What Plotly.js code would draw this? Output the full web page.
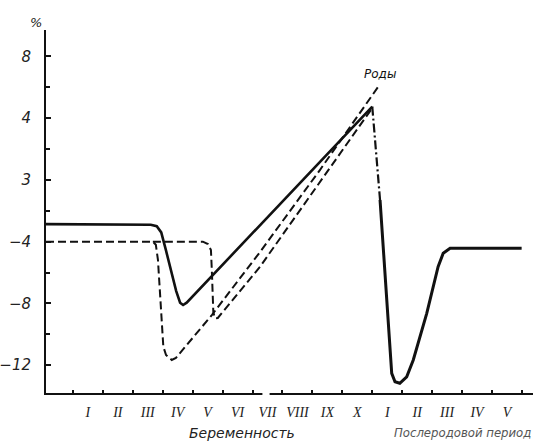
<!DOCTYPE html>
<html>
<head>
<meta charset="utf-8">
<script src="https://cdn.plot.ly/plotly-3.0.1.min.js"></script>
<style>html,body{margin:0;padding:0;background:#fff;}#chart{width:536px;height:445px;}</style>
</head>
<body>
<div id="chart"></div>
<script>
// Month positions: pregnancy months I..X occupy [0,10], birth at 10, postpartum months I..V occupy [10,15]
const monthLabels = ["I","II","III","IV","V","VI","VII","VIII","IX","X","I","II","III","IV","V"];
const monthCenters = [0.5,1.5,2.5,3.5,4.5,5.5,6.5,7.5,8.5,9.5,10.5,11.5,12.5,13.5,14.5];
const monthBounds = [0,1,2,3,4,5,6,7,8,9,10,11,12,13,14,15];

const yTickVals = [-12,-8,-4,0,4,8];
const yTickText = ["\u221212","\u22128","\u22124","3","4","8"];
const yMinorVals = [-10,-6,-2,2,6];

// Solid curve, pregnancy part (up to birth)
const solidPregX = [-0.9, 2.6, 2.8, 2.95, 3.1, 3.45, 3.58, 3.68, 3.8, 10.0];
const solidPregY = [-2.86, -2.9, -3.0, -3.4, -4.5, -7.2, -7.95, -8.1, -7.95, 4.75];
// Dash-dot transition right after birth
const transX = [10.0, 10.26];
const transY = [4.75, -1.3];
// Solid curve, postpartum part
const solidPostX = [10.26, 10.65, 10.76, 10.92, 11.15, 11.37, 11.82, 12.2, 12.37, 12.6, 14.99];
const solidPostY = [-1.3, -12.53, -13.07, -13.17, -12.75, -11.66, -8.64, -5.62, -4.75, -4.43, -4.43];
// Dashed curve with early deep dip
const dashBX = [-0.9, 2.67, 2.77, 2.84, 3.02, 3.11, 3.30, 3.44, 4.64, 6.25, 8.25, 10.2];
const dashBY = [-4.0, -4.0, -4.2, -5.18, -10.8, -11.34, -11.66, -11.53, -8.75, -4.67, 0.64, 6.04];
// Dashed curve with later dip
const dashCX = [2.67, 4.34, 4.51, 4.61, 4.64, 4.69, 4.74, 4.84, 6.25, 10.03];
const dashCY = [-4.0, -4.0, -4.15, -4.54, -5.84, -8.56, -8.96, -8.94, -5.62, 4.74];

const ink = "#111";
const traces = [
  {x: dashBX, y: dashBY, mode: "lines", line: {color: ink, width: 2, dash: "8px,4px"}, hoverinfo: "skip"},
  {x: dashCX, y: dashCY, mode: "lines", line: {color: ink, width: 2, dash: "8px,4px"}, hoverinfo: "skip"},
  {x: solidPregX, y: solidPregY, mode: "lines", line: {color: ink, width: 2.6}, hoverinfo: "skip"},
  {x: transX, y: transY, mode: "lines", line: {color: ink, width: 2.2, dash: "9px,3px,2px,3px"}, hoverinfo: "skip"},
  {x: solidPostX, y: solidPostY, mode: "lines", line: {color: ink, width: 3}, hoverinfo: "skip"}
];

const layout = {
  width: 536, height: 445,
  margin: {l: 46, r: 3, t: 30, b: 52},
  paper_bgcolor: "#fff", plot_bgcolor: "#fff",
  showlegend: false,
  xaxis: {
    range: [-0.9, 15.37], showgrid: false, zeroline: false,
    showline: true, linecolor: ink, linewidth: 2,
    tickmode: "array", tickvals: monthCenters, ticktext: monthLabels,
    ticks: "", ticklabelstandoff: 5,
    tickfont: {family: "Liberation Serif", size: 14, color: "#222", style: "italic"},
    minor: {tickmode: "array", tickvals: monthBounds, ticks: "inside", ticklen: 3, tickwidth: 2, tickcolor: ink}
  },
  yaxis: {
    range: [-13.8, 9.71], showgrid: false, zeroline: false,
    showline: true, linecolor: ink, linewidth: 2,
    tickmode: "array", tickvals: yTickVals, ticktext: yTickText,
    ticks: "inside", ticklen: 5, tickwidth: 2, tickcolor: ink, ticklabelstandoff: 10,
    tickfont: {family: "DejaVu Sans", size: 15, color: "#222", style: "italic"},
    minor: {tickmode: "array", tickvals: yMinorVals, ticks: "inside", ticklen: 4, tickwidth: 2, tickcolor: ink}
  },
  shapes: [
    {type: "rect", xref: "x", yref: "paper", x0: 6.33, x1: 6.57, y0: -0.012, y1: 0.012,
     fillcolor: "#fff", line: {width: 0}, layer: "above"}
  ],
  annotations: [
    {text: "%", xref: "paper", yref: "paper", x: -0.037, y: 1.047, showarrow: false,
     font: {family: "DejaVu Sans", size: 13, color: "#222", style: "italic"}},
    {text: "Роды", xref: "x", yref: "y", x: 10.26, y: 6.86, showarrow: false,
     font: {family: "DejaVu Sans", size: 12, color: "#111", style: "italic"}},
    {text: "Беременность", xref: "paper", yref: "paper", x: 0.29, y: -0.11, yanchor: "middle", showarrow: false,
     font: {family: "DejaVu Sans", size: 14, color: "#222", style: "italic"}},
    {text: "Послеродовой период", xref: "paper", yref: "paper", x: 1.0, xanchor: "right", y: -0.108, yanchor: "middle", showarrow: false,
     font: {family: "DejaVu Sans Condensed", size: 13, color: "#555", style: "italic"}}
  ]
};

Plotly.newPlot("chart", traces, layout, {displayModeBar: false, staticPlot: true});
</script>
</body>
</html>
